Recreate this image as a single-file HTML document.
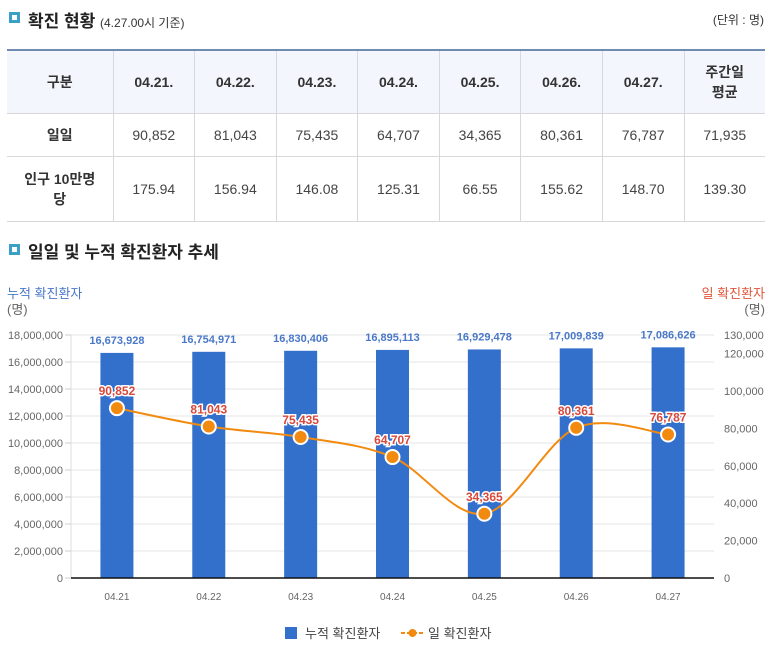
<!DOCTYPE html>
<html><head><meta charset="utf-8">
<style>
*{margin:0;padding:0;box-sizing:border-box}
body{width:769px;height:655px;background:#fff;font-family:"Liberation Sans","Noto Sans CJK KR",sans-serif;color:#333;position:relative;overflow:hidden}
.sq{position:absolute;width:11px;height:11px;border:3px solid #3aa0c8;background:#fff}
.h{position:absolute;font-size:17px;font-weight:bold;color:#222}
table{position:absolute;left:7px;top:49px;width:758px;border-collapse:collapse;border-top:2px solid #6f8bb0;font-size:14px;text-align:center}
td,th{border:1px solid #d8d8d8;color:#444}
td{font-weight:normal}
th{background:#f3f6fc;font-weight:bold;color:#333}
tr:first-child th{border-top:none}
td:first-child,th:first-child{border-left:none}
td:last-child,th:last-child{border-right:none}
</style></head><body>
<div class="sq" style="left:9px;top:12px"></div>
<div class="h" style="left:28px;top:7px">확진 현황 <span style="font-size:12px;font-weight:normal;color:#333">(4.27.00시 기준)</span></div>
<div style="position:absolute;right:5px;top:11px;font-size:12px;color:#333">(단위 : 명)</div>
<table>
<tr style="height:63px"><th style="width:106px">구분</th><th>04.21.</th><th>04.22.</th><th>04.23.</th><th>04.24.</th><th>04.25.</th><th>04.26.</th><th>04.27.</th><th style="width:81px">주간일<br>평균</th></tr>
<tr style="height:43px"><th style="background:#fff">일일</th><td>90,852</td><td>81,043</td><td>75,435</td><td>64,707</td><td>34,365</td><td>80,361</td><td>76,787</td><td>71,935</td></tr>
<tr style="height:65px"><th style="background:#fff">인구 10만명<br>당</th><td>175.94</td><td>156.94</td><td>146.08</td><td>125.31</td><td>66.55</td><td>155.62</td><td>148.70</td><td>139.30</td></tr>
</table>
<div class="sq" style="left:9px;top:244px"></div>
<div class="h" style="left:28px;top:238px">일일 및 누적 확진환자 추세</div>
<svg id="chart" width="769" height="655" style="position:absolute;left:0;top:0" font-family="Liberation Sans, Noto Sans CJK KR, sans-serif"></svg>
<script>
const categories=["04.21","04.22","04.23","04.24","04.25","04.26","04.27"];
const cumulative=[16673928,16754971,16830406,16895113,16929478,17009839,17086626];
const daily=[90852,81043,75435,64707,34365,80361,76787];
const leftTicks=[0,2000000,4000000,6000000,8000000,10000000,12000000,14000000,16000000,18000000];
const rightTicks=[0,20000,40000,60000,80000,100000,120000,130000];
const svg=document.getElementById('chart');const NS='http://www.w3.org/2000/svg';
function mk(t,a,txt){const e=document.createElementNS(NS,t);for(const k in a)e.setAttribute(k,a[k]);if(txt!=null)e.textContent=txt;svg.appendChild(e);return e;}
const X0=71,X1=714,Y0=578,YT=335;
const band=(X1-X0)/categories.length;
const xc=i=>X0+band*(i+0.5);
const yl=v=>Y0-(v/18000000)*(Y0-YT);
const yr=v=>Y0-(v/130000)*(Y0-YT);
const fmt=v=>v.toLocaleString('en-US');
let e;
e=mk('text',{x:7,y:298,'font-size':13,fill:'#4a78c8'},'누적 확진환자');
e=mk('text',{x:7,y:314,'font-size':13,fill:'#666'},'(명)');
e=mk('text',{x:765,y:298,'font-size':13,fill:'#e0553a','text-anchor':'end'},'일 확진환자');
e=mk('text',{x:765,y:314,'font-size':13,fill:'#666','text-anchor':'end'},'(명)');
leftTicks.forEach(v=>{const y=yl(v);
 if(v>0){e=mk('line',{x1:X0,x2:X1,y1:y,y2:y,stroke:'#e4e4e4'});}
 e=mk('line',{x1:X0-6,x2:X0,y1:y,y2:y,stroke:'#ccc'});
 e=mk('text',{x:X0-8,y:y+4,'font-size':11,fill:'#666','text-anchor':'end'},fmt(v));});
rightTicks.forEach(v=>{e=mk('text',{x:724,y:yr(v)+4,'font-size':11,fill:'#666'},fmt(v));});
e=mk('line',{x1:X0,x2:X0,y1:YT,y2:Y0,stroke:'#ddd'});
categories.forEach((c,i)=>{const x=xc(i),y=yl(cumulative[i]);
 e=mk('rect',{x:x-16.5,y:y,width:33,height:Y0-y,fill:'#3370cc'});
 e=mk('text',{x:x,y:y-9,'font-size':11,'font-weight':'bold',fill:'#4a78c8','text-anchor':'middle'},fmt(cumulative[i]));
 e=mk('text',{x:x,y:600,'font-size':10,fill:'#666','text-anchor':'middle'},c);});
e=mk('line',{x1:X0,x2:X1,y1:Y0,y2:Y0,stroke:'#111','stroke-width':1.5});
const pts=daily.map((v,i)=>[xc(i),yr(v)]);
let d='M'+pts[0][0]+','+pts[0][1];
for(let i=0;i<pts.length-1;i++){const p0=pts[Math.max(i-1,0)],p1=pts[i],p2=pts[i+1],p3=pts[Math.min(i+2,pts.length-1)];
 d+=' C'+(p1[0]+(p2[0]-p0[0])/6)+','+(p1[1]+(p2[1]-p0[1])/6)+' '+(p2[0]-(p3[0]-p1[0])/6)+','+(p2[1]-(p3[1]-p1[1])/6)+' '+p2[0]+','+p2[1];}
e=mk('path',{d:d,fill:'none',stroke:'#f28a10','stroke-width':2});
pts.forEach((p,i)=>{e=mk('circle',{cx:p[0],cy:p[1],r:7,fill:'#f28a10',stroke:'#fff','stroke-width':2});
 e=mk('text',{x:p[0],y:p[1]-13,'font-size':12,'font-weight':'bold',fill:'#d9473a',stroke:'#fff','stroke-width':3,'paint-order':'stroke','text-anchor':'middle'},fmt(daily[i]));});
e=mk('rect',{x:285,y:627,width:12,height:12,fill:'#3370cc'});
e=mk('text',{x:305,y:638,'font-size':13,fill:'#444'},'누적 확진환자');
e=mk('line',{x1:401,x2:424,y1:633,y2:633,stroke:'#f28a10','stroke-width':2,'stroke-dasharray':'4,2'});
e=mk('circle',{cx:412.5,cy:633,r:4,fill:'#f28a10'});
e=mk('text',{x:428,y:638,'font-size':13,fill:'#444'},'일 확진환자');
</script>
</body></html>
